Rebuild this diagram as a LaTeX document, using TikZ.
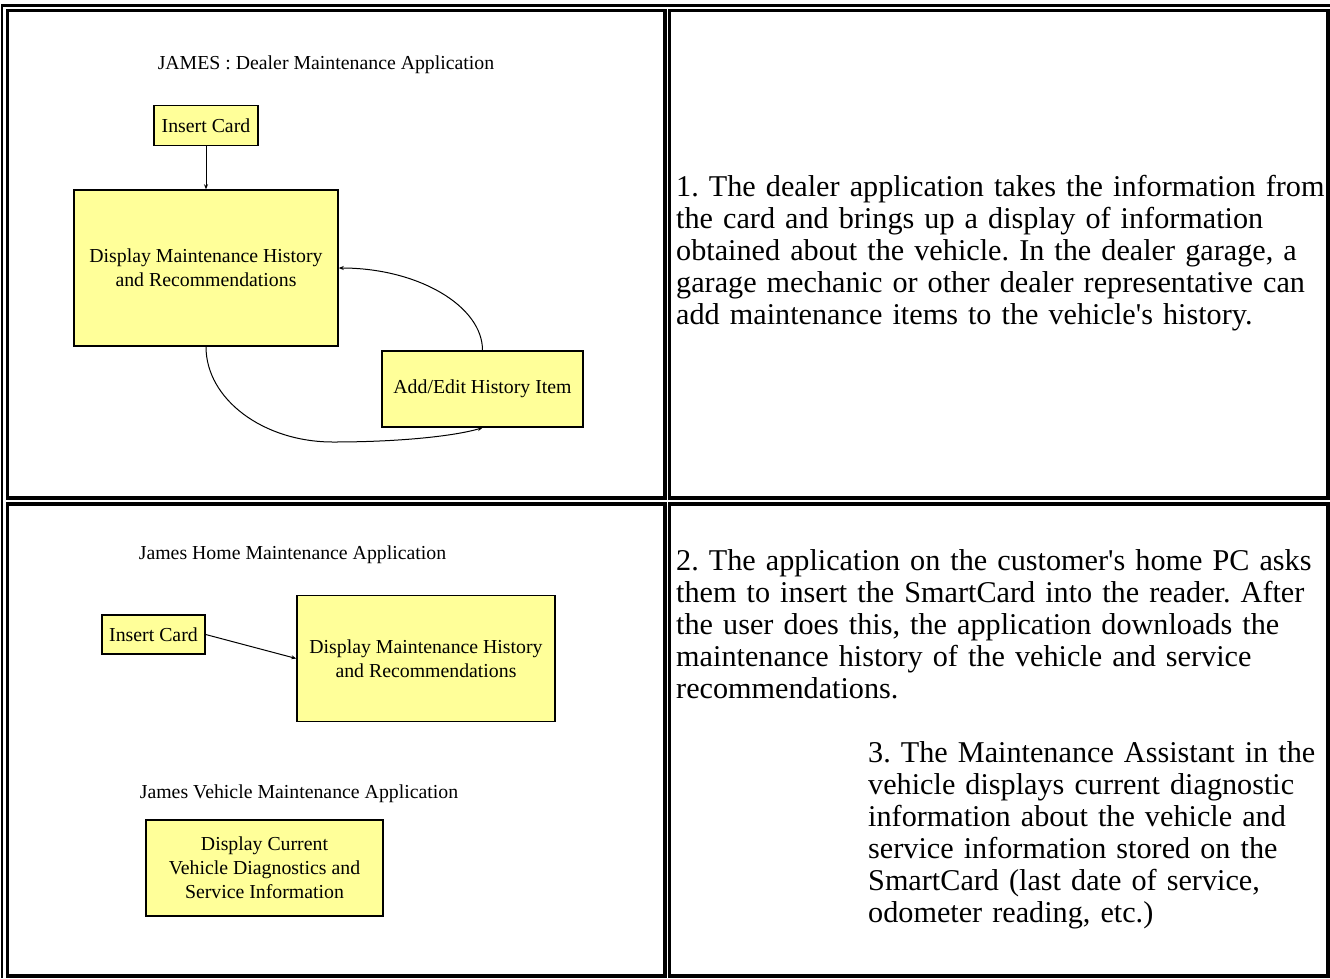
\documentclass[tikz,border=0pt]{standalone}
\usepackage{fontspec}
\setmainfont{Liberation Serif}
\usetikzlibrary{arrows.meta}
\frenchspacing
\definecolor{boxyellow}{RGB}{255,255,153}
\newcommand{\diagfont}{\fontsize{19.8}{24}\selectfont}
\newcommand{\bodyfont}{\fontsize{30.2}{32}\selectfont}
\newcommand{\apos}{\textquotesingle}
\tikzset{
  box/.style={draw=black, fill=boxyellow, line width=1.5pt, inner sep=0pt, align=center, font=\diagfont},
  title/.style={inner sep=0pt, font=\diagfont},
  conn/.style={line width=1pt, -{Stealth[length=5pt,width=4pt]}},
  cell/.style={line width=3.5pt},
  para/.style={inner sep=0pt, anchor=base west, align=left, text width=700pt, font=\bodyfont}
}
\begin{document}
\begin{tikzpicture}[x=1pt,y=-1pt]
\useasboundingbox (0,0) rectangle (1330,978);
% table borders
\draw[line width=2.5pt] (2,978) -- (2,5.5) -- (1330,5.5);
\draw[cell] (7.5,10.5) rectangle (665,498);
\draw[cell] (669.5,10.5) rectangle (1328,498);
\draw[cell] (7.5,504) rectangle (665,976);
\draw[cell] (669.5,504) rectangle (1328,976);

% top-left diagram
\node[title] (t1) at (326,65) {JAMES : Dealer Maintenance Application};
\node[box, minimum width=104pt, minimum height=40pt] (ic1) at (206,125.5) {Insert Card};
\node[box, minimum width=264pt, minimum height=156pt] (dm1) at (206,268) {Display Maintenance History\\and Recommendations};
\node[box, minimum width=201pt, minimum height=76pt] (ae1) at (482.5,389) {Add/Edit History Item};
\draw[conn] (ic1.south) -- (dm1.north);
\draw[conn] (ae1.north) .. controls (482.5,306) and (418,268) .. (dm1.east);
\draw[conn] (dm1.south) .. controls (206,399) and (263,442) .. (333,442) .. controls (400,442) and (455,436) .. (ae1.south);

% bottom-left diagrams
\node[title] (t2) at (292.5,555) {James Home Maintenance Application};
\node[box, minimum width=103pt, minimum height=39pt] (ic2) at (153.5,634.5) {Insert Card};
\node[box, minimum width=258pt, minimum height=126pt] (dm2) at (426,658.5) {Display Maintenance History\\and Recommendations};
\draw[conn] (ic2.east) -- (dm2.west);
\node[title] (t3) at (299,794) {James Vehicle Maintenance Application};
\node[box, minimum width=237pt, minimum height=96pt] (vd) at (264.5,868) {Display Current\\Vehicle Diagnostics and\\Service Information};

% right-hand texts
\node[para] (p1) at (676,196) {1. The dealer application takes the information from\\the card and brings up a display of information\\obtained about the vehicle. In the dealer garage, a\\garage mechanic or other dealer representative can\\add maintenance items to the vehicle\apos s history.};
\node[para] (p2) at (676,570) {2. The application on the customer\apos s home PC asks\\them to insert the SmartCard into the reader. After\\the user does this, the application downloads the\\maintenance history of the vehicle and service\\recommendations.};
\node[para] (p3) at (868,762) {3. The Maintenance Assistant in the\\vehicle displays current diagnostic\\information about the vehicle and\\service information stored on the\\SmartCard (last date of service,\\odometer reading, etc.)};
\end{tikzpicture}
\end{document}
